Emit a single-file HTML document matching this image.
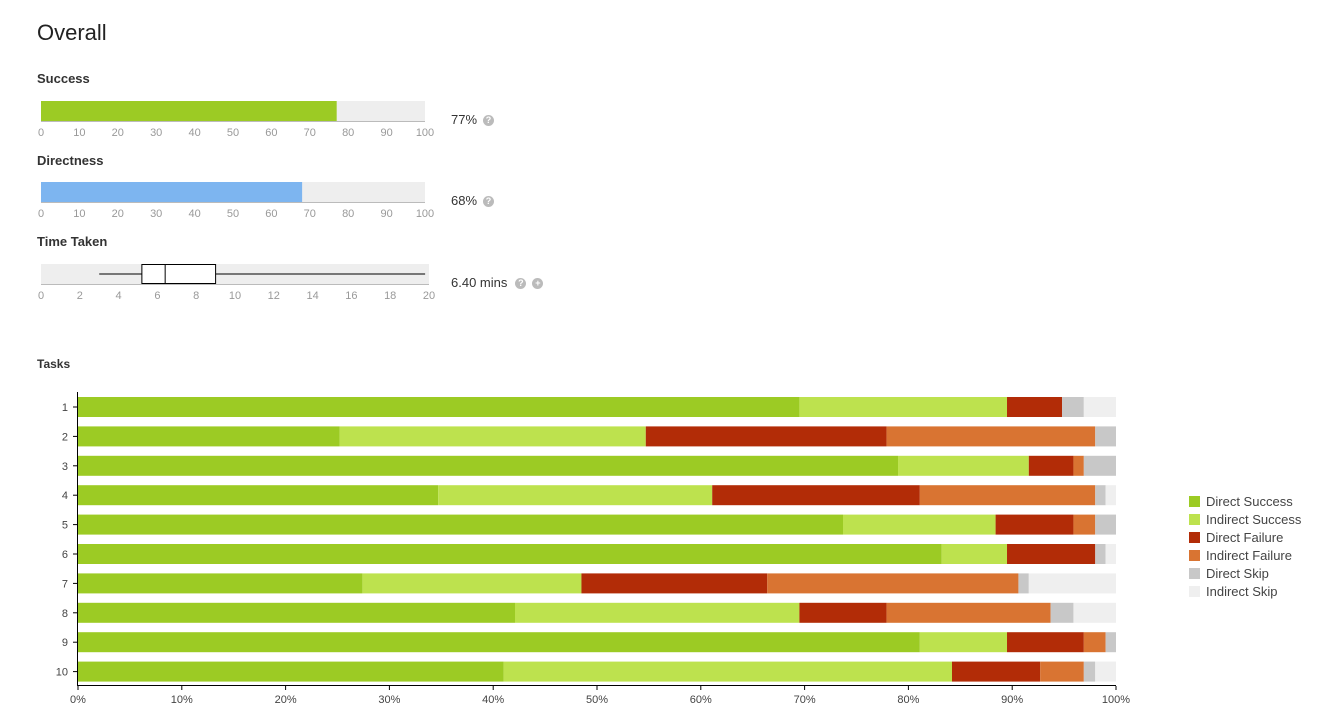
<!DOCTYPE html>
<html><head><meta charset="utf-8"><style>
body{margin:0;background:#fff;font-family:"Liberation Sans",sans-serif;width:1338px;height:721px;overflow:hidden;position:relative}
.abs{position:absolute}
h1{position:absolute;left:37px;top:20px;margin:0;font-size:22px;font-weight:normal;color:#222}
.lbl{position:absolute;left:37px;font-size:13px;font-weight:bold;color:#333}
.val{position:absolute;left:451px;font-size:13px;color:#333}
.q{display:inline-block;width:11px;height:11px;border-radius:50%;background:#bbb;color:#fff;font-size:9px;text-align:center;line-height:11px;margin-left:6px;vertical-align:1px;font-weight:bold}
text{font-family:"Liberation Sans",sans-serif}
</style></head><body>
<h1>Overall</h1>
<div class="lbl" style="top:71px">Success</div>
<div class="lbl" style="top:153px">Directness</div>
<div class="lbl" style="top:234px">Time Taken</div>
<div class="val" style="top:112px">77%<span class="q">?</span></div>
<div class="val" style="top:193px">68%<span class="q">?</span></div>
<div class="val" style="top:275px">6.40 mins<span class="q" style="margin-left:8px">?</span><span class="q">+</span></div>
<div class="lbl" style="top:357px;font-size:12px">Tasks</div>
<svg id="topsvg" class="abs" style="left:0;top:0" width="600" height="310"></svg>
<svg id="chart" class="abs" style="left:0;top:0" width="1338" height="721"></svg>
<script>
const successVal=77, directVal=68;
const timeStats=[3,5.2,6.4,9.0,19.8];
const tasks=["1","2","3","4","5","6","7","8","9","10"];
const directSuccess=[69.5,25.2,79,34.7,73.7,83.2,27.4,42.1,81.1,41];
const indirectSuccess=[20,29.5,12.6,26.4,14.7,6.3,21.1,27.4,8.4,43.2];
const directFailure=[5.3,23.2,4.3,20,7.5,8.5,17.9,8.4,7.4,8.5];
const indirectFailure=[0,20.1,1,16.9,2.1,0,24.2,15.8,2.1,4.2];
const directSkip=[2.1,2,3.1,1,2,1,1,2.2,1,1.1];
const indirectSkip=[3.1,0,0,1,0,1,8.4,4.1,0,2];
const seriesNames=["Direct Success","Indirect Success","Direct Failure","Indirect Failure","Direct Skip","Indirect Skip"];
const xTicks=[0,10,20,30,40,50,60,70,80,90,100];
const timeTicks=[0,2,4,6,8,10,12,14,16,18,20];
const colors=["#9ccb24","#bde24e","#b22c07","#d97432","#c8c8c8","#efefef"];
const NS="http://www.w3.org/2000/svg";
function mk(p,t,a){const e=document.createElementNS(NS,t);for(const k in a)e.setAttribute(k,a[k]);p.appendChild(e);return e;}
const topSvg=document.getElementById('topsvg');
const px=v=>41+v*3.84;
function pctBar(y,v,col,name){
 let bg=mk(topSvg,'rect',{x:41,y:y,width:384,height:20,fill:'#eee'});
 
 
 let b=mk(topSvg,'rect',{x:41,y:y,width:px(v)-41,height:20,fill:col});
 
 
 mk(topSvg,'line',{x1:41,x2:425,y1:y+20.5,y2:y+20.5,stroke:'#bbb'});
 xTicks.forEach(t=>{let tx=mk(topSvg,'text',{x:px(t),y:y+35,'font-size':11,fill:'#999','text-anchor':'middle'});tx.textContent=t;
 
 });
}
pctBar(101,successVal,'#9ccb24','success');
pctBar(182,directVal,'#7db5f0','directness');
const tx=v=>41+v*19.4;
let tb=mk(topSvg,'rect',{x:41,y:264,width:388,height:20,fill:'#eee'});


mk(topSvg,'line',{x1:41,x2:429,y1:284.5,y2:284.5,stroke:'#bbb'});
mk(topSvg,'line',{x1:tx(timeStats[0]),x2:tx(timeStats[4]),y1:274,y2:274,stroke:'#000'});
let bx=mk(topSvg,'rect',{x:tx(timeStats[1]),y:264.5,width:tx(timeStats[3])-tx(timeStats[1]),height:19,fill:'#fff',stroke:'#000'});


mk(topSvg,'line',{x1:tx(timeStats[2]),x2:tx(timeStats[2]),y1:264,y2:284,stroke:'#000'});
timeTicks.forEach(t=>{let e=mk(topSvg,'text',{x:tx(t),y:299,'font-size':11,fill:'#999','text-anchor':'middle'});e.textContent=t;
 
 });

const ch=document.getElementById('chart');
const X0=78,X1=1116,xs=v=>X0+v*(X1-X0)/100;
const yc=i=>407+i*29.4;
mk(ch,'line',{x1:77.5,x2:77.5,y1:392,y2:686,stroke:'#000'});
mk(ch,'line',{x1:77,x2:1116,y1:685.5,y2:685.5,stroke:'#000'});
xTicks.forEach(t=>{mk(ch,'line',{x1:xs(t),x2:xs(t),y1:686,y2:690,stroke:'#000'});
 let e=mk(ch,'text',{x:xs(t),y:703,'font-size':11,fill:'#444','text-anchor':'middle'});e.textContent=t+'%';
 
 });
const series=[directSuccess,indirectSuccess,directFailure,indirectFailure,directSkip,indirectSkip];
tasks.forEach((t,i)=>{
 mk(ch,'line',{x1:73,x2:78,y1:yc(i),y2:yc(i),stroke:'#000'});
 let l=mk(ch,'text',{x:68,y:yc(i)+4,'font-size':11,fill:'#444','text-anchor':'end'});l.textContent=t;
 
 
 let acc=0;
 series.forEach((s,k)=>{const v=s[i];if(v<=0)return;
  let r=mk(ch,'rect',{x:xs(acc),y:yc(i)-10,width:xs(acc+v)-xs(acc),height:20,fill:colors[k]});
  
  
  acc+=v;});
});
seriesNames.forEach((n,k)=>{
 const y=501+k*18;
 let r=mk(ch,'rect',{x:1189,y:y-5,width:11,height:11,fill:colors[k]});
 
 
 let e=mk(ch,'text',{x:1206,y:y+5,'font-size':13,fill:'#444'});e.textContent=n;
 
 
});
</script>
</body></html>
